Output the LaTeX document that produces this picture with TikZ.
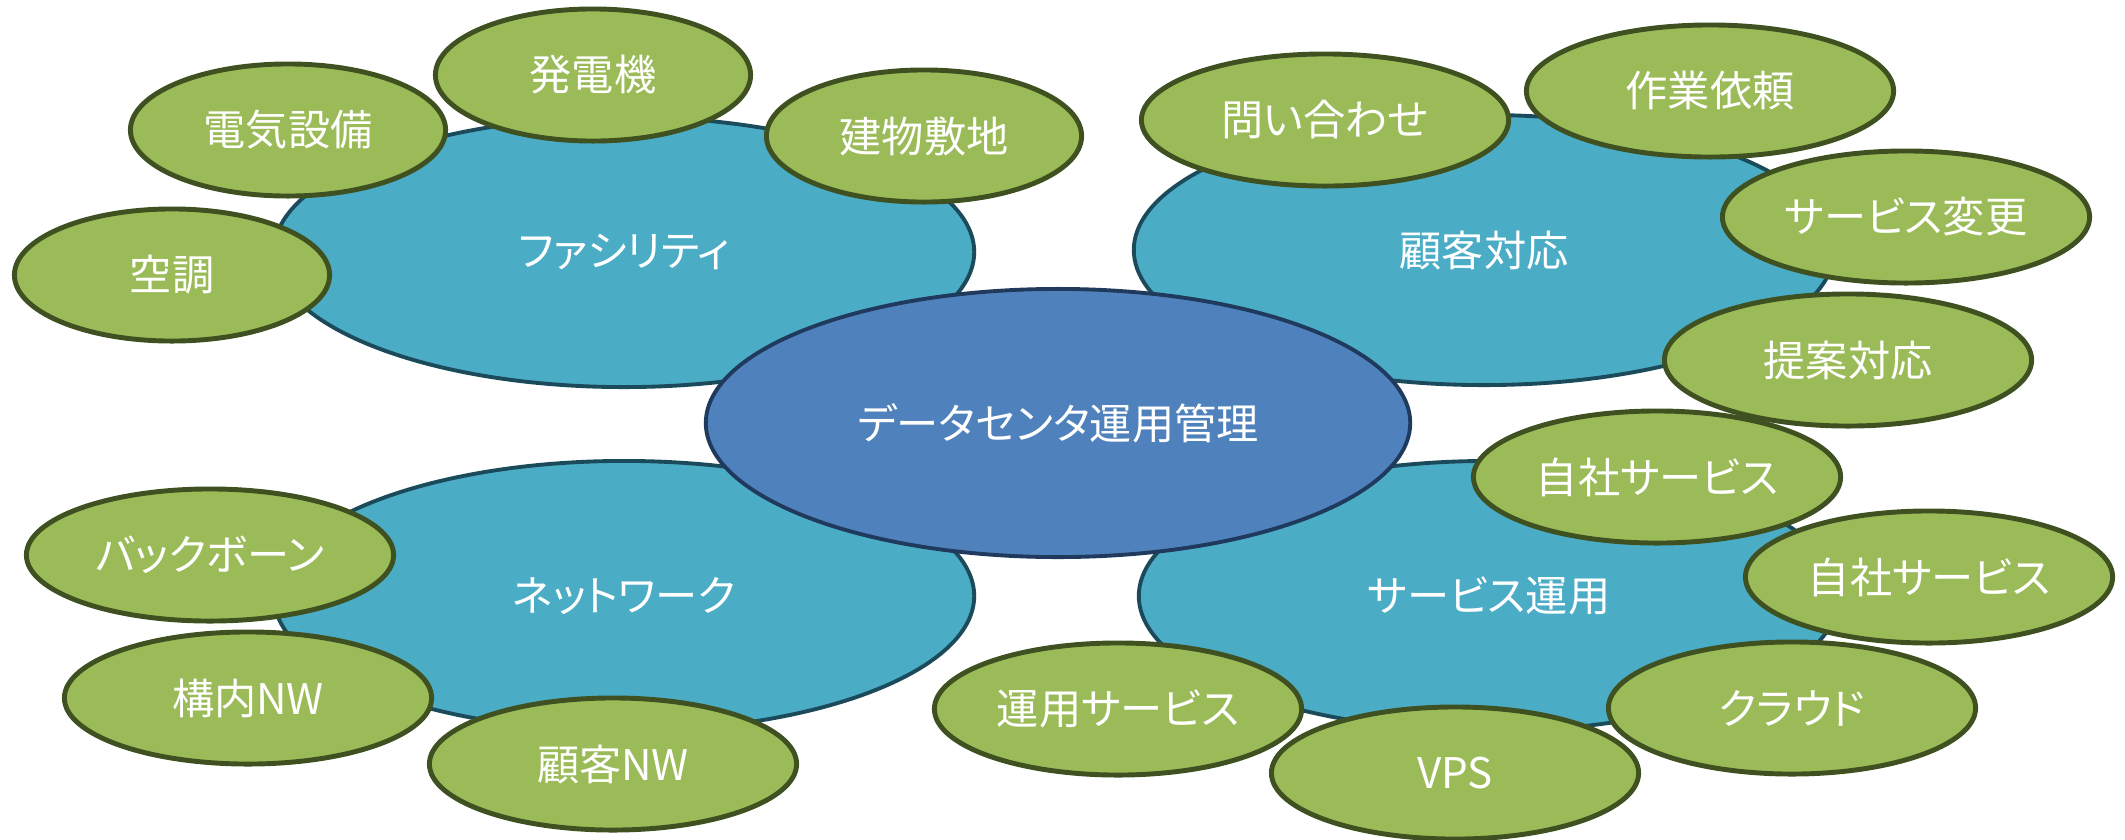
\documentclass[tikz,border=0pt]{standalone}
\usepackage{fontspec}
\newfontfamily\jpfont{Noto Sans CJK JP}[RawFeature=+palt]
\usetikzlibrary{shapes.geometric}
\definecolor{hubfill}{HTML}{4F81BD}
\definecolor{hubline}{HTML}{1F3A5C}
\definecolor{areafill}{HTML}{4BACC6}
\definecolor{arealine}{HTML}{1B4B5A}
\definecolor{leaffill}{HTML}{9BBB59}
\definecolor{leafline}{HTML}{3F5120}
\begin{document}
\begin{tikzpicture}[x=0.01cm, y=-0.01cm, font=\jpfont\fontsize{12}{14}\selectfont, text=white,
	hub/.style={ellipse, draw=hubline, fill=hubfill, line width=1.1pt, minimum width=7.04cm, minimum height=2.68cm, inner sep=0pt},
	area/.style={ellipse, draw=arealine, fill=areafill, line width=1.1pt, minimum width=7.0cm, minimum height=2.7cm, inner sep=0pt},
	leaf/.style={ellipse, draw=leafline, fill=leaffill, line width=1.4pt, minimum width=3.67cm, minimum height=1.32cm, inner sep=0pt},
	narrowleaf/.style={leaf, minimum width=3.15cm}]
		\useasboundingbox (0,0) rectangle (2125,839);
		% four areas
		\node[area] (fac) at (624,252) {ファシリティ};
		\node[area] (cust) at (1484,250) {顧客対応};
		\node[area] (net) at (624,596) {ネットワーク};
		\node[area] (svc) at (1489,596) {サービス運用};
		% core
		\node[hub] (core) at (1058,423) {データセンタ運用管理};
		% facility items
		\foreach \n/\p/\t in {f1/{288,130}/電気設備, f2/{593,75}/発電機, f3/{924,136}/建物敷地, f4/{172,275}/空調}
		\node[narrowleaf] (\n) at (\p) {\t};
		% customer items
		\foreach \n/\p/\t in {c1/{1325,120}/問い合わせ, c2/{1710,91}/作業依頼, c3/{1906,217}/サービス変更, c4/{1848,360}/提案対応}
		\node[leaf] (\n) at (\p) {\t};
		% network items
		\foreach \n/\p/\t in {n1/{210,555}/バックボーン, n2/{248,698}/構内NW, n3/{613,764}/顧客NW}
		\node[leaf] (\n) at (\p) {\t};
		% service items
		\foreach \n/\p/\t in {s1/{1657,477}/自社サービス, s2/{1929,577}/自社サービス, s5/{1118,709}/運用サービス, s4/{1455,773}/VPS, s3/{1792,708}/クラウド}
		\node[leaf] (\n) at (\p) {\t};
	\end{tikzpicture}
\end{document}
